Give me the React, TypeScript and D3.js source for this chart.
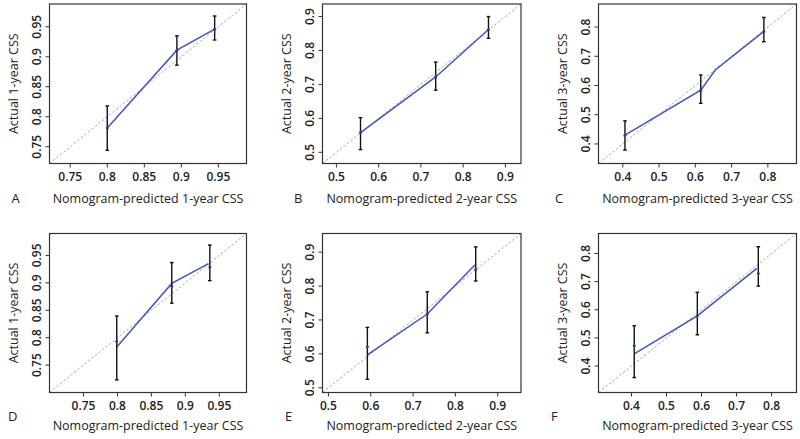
import React from "react";
import * as d3 from "d3";

// ---- data ----
const panelLetters = ["A", "B", "C", "D", "E", "F"];
const horizons = ["1-year", "2-year", "3-year", "1-year", "2-year", "3-year"];

const limitsA = [0.722, 0.988];
const limitsB = [0.467, 0.937];
const limitsC = [0.333, 0.879];
const limitsD = [0.70, 0.99];
const limitsE = [0.486, 0.955];
const limitsF = [0.306, 0.871];

const ticks1y = [0.75, 0.8, 0.85, 0.9, 0.95];
const ticks2y = [0.5, 0.6, 0.7, 0.8, 0.9];
const ticks3y = [0.4, 0.5, 0.6, 0.7, 0.8];

// predicted (x), observed (dot), lower / upper CI, calibration line
const predA = [0.800, 0.894, 0.945];
const obsA = [0.781, 0.911, 0.946];
const lowA = [0.744, 0.886, 0.928];
const highA = [0.818, 0.935, 0.968];
const lineXA = [0.800, 0.894, 0.945];
const lineYA = [0.781, 0.911, 0.946];

const predB = [0.557, 0.735, 0.860];
const obsB = [0.558, 0.722, 0.862];
const lowB = [0.508, 0.683, 0.836];
const highB = [0.602, 0.766, 0.900];
const lineXB = [0.557, 0.735, 0.860];
const lineYB = [0.558, 0.722, 0.862];

const predC = [0.406, 0.615, 0.789];
const obsC = [0.430, 0.584, 0.785];
const lowC = [0.379, 0.539, 0.750];
const highC = [0.479, 0.636, 0.833];
const lineXC = [0.406, 0.615, 0.655, 0.789];
const lineYC = [0.430, 0.584, 0.653, 0.785];

const predD = [0.799, 0.880, 0.936];
const obsD = [0.793, 0.894, 0.929];
const lowD = [0.723, 0.863, 0.904];
const highD = [0.8395, 0.937, 0.969];
const lineXD = [0.799, 0.880, 0.934];
const lineYD = [0.783, 0.899, 0.935];

const predE = [0.592, 0.7335, 0.848];
const obsE = [0.621, 0.7175, 0.849];
const lowE = [0.525, 0.662, 0.815];
const highE = [0.678, 0.783, 0.9155];
const lineXE = [0.592, 0.7335, 0.846];
const lineYE = [0.597, 0.7175, 0.862];

const predF = [0.408, 0.588, 0.762];
const obsF = [0.472, 0.578, 0.729];
const lowF = [0.359, 0.511, 0.684];
const highF = [0.543, 0.662, 0.824];
const lineXF = [0.408, 0.588, 0.758];
const lineYF = [0.443, 0.578, 0.747];

const panelsData = [
  { lim: limitsA, ticks: ticks1y, pred: predA, obs: obsA, low: lowA, high: highA, lx: lineXA, ly: lineYA },
  { lim: limitsB, ticks: ticks2y, pred: predB, obs: obsB, low: lowB, high: highB, lx: lineXB, ly: lineYB },
  { lim: limitsC, ticks: ticks3y, pred: predC, obs: obsC, low: lowC, high: highC, lx: lineXC, ly: lineYC },
  { lim: limitsD, ticks: ticks1y, pred: predD, obs: obsD, low: lowD, high: highD, lx: lineXD, ly: lineYD },
  { lim: limitsE, ticks: ticks2y, pred: predE, obs: obsE, low: lowE, high: highE, lx: lineXE, ly: lineYE },
  { lim: limitsF, ticks: ticks3y, pred: predF, obs: obsF, low: lowF, high: highF, lx: lineXF, ly: lineYF },
];

// ---- layout ----
const W = 800;
const H = 439;
const colLeft = [49.5, 322.5, 598.5];
const colRight = [246.5, 521, 796.5];
const rowTop = [4, 233.5];
const rowBottom = [163.5, 392.5];
const titleBase = [203, 429.5];
const letterBase = [203, 421];
const letterX = [11.5, 294, 555, 8, 285, 551];

const FONT = "'Open Sans', 'Noto Sans', sans-serif";
const TXT = "#222";
const BLUE = "#4058b4";

function Panel({ i }: { i: number }) {
  const p = panelsData[i];
  const col = i % 3;
  const row = Math.floor(i / 3);
  const x0 = colLeft[col], x1 = colRight[col];
  const y0 = rowTop[row], y1 = rowBottom[row];
  const x = d3.scaleLinear().domain(p.lim).range([x0, x1]);
  const y = d3.scaleLinear().domain(p.lim).range([y1, y0]);
  const line = d3.line<number>().x((d) => x(d)).y((_, k) => y(p.ly[k]));
  const fmt = (v: number) => String(+v.toFixed(2));
  const cx = (x0 + x1) / 2;
  const cy = (y0 + y1) / 2;
  return (
    <g>
      {/* diagonal reference */}
      <line x1={x(p.lim[0])} y1={y(p.lim[0])} x2={x(p.lim[1])} y2={y(p.lim[1])}
        stroke="#a8a8a8" strokeWidth={1} strokeDasharray="2.5,2" />
      {/* calibration line */}
      <path d={line(p.lx) || ""} fill="none" stroke={BLUE} strokeWidth={1.5} />
      {/* error bars */}
      {p.pred.map((v, k) => (
        <g key={k} stroke="#111" strokeWidth={1.4}>
          <line x1={x(v)} x2={x(v)} y1={y(p.low[k])} y2={y(p.high[k])} />
          <line x1={x(v) - 1.8} x2={x(v) + 1.8} y1={y(p.low[k])} y2={y(p.low[k])} />
          <line x1={x(v) - 1.8} x2={x(v) + 1.8} y1={y(p.high[k])} y2={y(p.high[k])} />
        </g>
      ))}
      {p.pred.map((v, k) => (
        <circle key={"o" + k} cx={x(v)} cy={y(p.obs[k])} r={1.5} fill="#2c3f8f" />
      ))}
      {/* box */}
      <rect x={x0} y={y0} width={x1 - x0} height={y1 - y0} fill="none" stroke="#333" strokeWidth={1.2} />
      {/* x ticks */}
      {p.ticks.map((t) => (
        <g key={"xt" + t}>
          <line x1={x(t)} x2={x(t)} y1={y1} y2={y1 + 4} stroke="#333" strokeWidth={1} />
          <text x={x(t)} y={y1 + 17} textAnchor="middle" fontSize={12} fontWeight={600}
            fontFamily={FONT} fill={TXT}>{fmt(t)}</text>
        </g>
      ))}
      {/* y ticks */}
      {p.ticks.map((t) => (
        <g key={"yt" + t}>
          <line x1={x0 - 4} x2={x0} y1={y(t)} y2={y(t)} stroke="#333" strokeWidth={1} />
          <text transform={`translate(${x0 - 8.5},${y(t)}) rotate(-90)`} textAnchor="middle"
            fontSize={12} fontWeight={600} fontFamily={FONT} fill={TXT}>{fmt(t)}</text>
        </g>
      ))}
      {/* titles */}
      <text x={cx} y={titleBase[row]} textAnchor="middle" fontSize={12.5} fontFamily={FONT} fill={TXT}>
        {`Nomogram-predicted ${horizons[i]} CSS`}
      </text>
      <text transform={`translate(${x0 - 31.5},${cy}) rotate(-90)`} textAnchor="middle"
        fontSize={12.5} fontFamily={FONT} fill={TXT}>
        {`Actual ${horizons[i]} CSS`}
      </text>
      <text x={letterX[i]} y={letterBase[row]} fontSize={13} fontFamily={FONT} fill={TXT}>
        {panelLetters[i]}
      </text>
    </g>
  );
}

export default function App() {
  return (
    <svg width={W} height={H} style={{ position: "absolute", left: 0, top: 0, background: "#fff" }}>
      <rect x={0} y={0} width={W} height={H} fill="#fff" />
      {panelsData.map((_, i) => (
        <Panel key={i} i={i} />
      ))}
    </svg>
  );
}
